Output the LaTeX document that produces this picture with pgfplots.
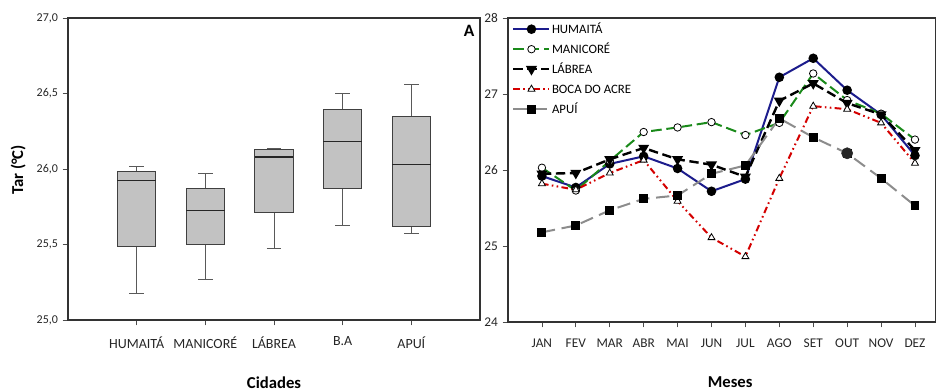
\documentclass[border=0pt]{standalone}
\usepackage{fontspec}
\setmainfont{Carlito}
\usepackage{pgfplots}
\pgfplotsset{compat=1.18}
\usepgfplotslibrary{statistics}
\definecolor{boxfill}{HTML}{C2C2C2}
\definecolor{cblue}{HTML}{1C1C8C}
\definecolor{cgreen}{HTML}{1A8A1A}
\definecolor{cred}{HTML}{D40000}
\definecolor{cgray}{HTML}{8C8C8C}
\begin{document}
\begin{tikzpicture}
\useasboundingbox (0,0) rectangle (702pt,294pt);
% ---------------- Left: boxplots
\begin{axis}[
  at={(51pt,54pt)}, anchor=south west, scale only axis,
  width=309pt, height=226.5pt,
  xmin=0, xmax=6, ymin=25, ymax=27,
  xtick={1,2,3,4,5},
  xticklabels={HUMAITÁ,MANICORÉ,LÁBREA,B.A,APUÍ},
  ytick={25,25.5,26,26.5,27},
  /pgf/number format/.cd, use comma, fixed, fixed zerofill, precision=1, assume math mode=true,
  /pgfplots/.cd,
  tick align=outside, tick pos=left, major tick length=4pt,
  tick style={black!70, line width=0.6pt},
  axis line style={black!80, line width=0.8pt},
  yticklabel style={font=\fontsize{9}{10}\selectfont, text=black!85},
  xticklabel style={yshift=-5pt, font=\fontsize{10.5}{11}\selectfont, text=black!85},
  xlabel={\textbf{Cidades}},
  xlabel style={at={(axis description cs:0.5,-0.209)}, anchor=center, font=\fontsize{12.5}{14}\selectfont},
  ylabel={\textbf{Tar (°C)}},
  ylabel style={at={(axis description cs:-0.121,0.497)}, anchor=center, rotate=0, font=\fontsize{12.5}{14}\selectfont},
  boxplot/draw direction=y,
  boxplot/every box/.style={draw=black!75, fill=boxfill, line width=0.8pt},
  boxplot/every median/.style={draw=black!85, line width=1pt},
  boxplot/every whisker/.style={draw=black!65, line width=0.7pt},
]
\addplot[boxplot prepared={draw position=1, lower whisker=25.176, lower quartile=25.487, median=25.925, upper quartile=25.985, upper whisker=26.02, box extend=0.56, whisker extend=0.21}] coordinates {};
\addplot[boxplot prepared={draw position=2, lower whisker=25.271, lower quartile=25.498, median=25.727, upper quartile=25.872, upper whisker=25.971, box extend=0.56, whisker extend=0.21}] coordinates {};
\addplot[boxplot prepared={draw position=3, lower whisker=25.476, lower quartile=25.714, median=26.079, upper quartile=26.132, upper whisker=26.137, box extend=0.56, whisker extend=0.21}] coordinates {};
\addplot[boxplot prepared={draw position=4, lower whisker=25.623, lower quartile=25.868, median=26.181, upper quartile=26.396, upper whisker=26.502, box extend=0.56, whisker extend=0.21}] coordinates {};
\addplot[boxplot prepared={draw position=5, lower whisker=25.575, lower quartile=25.621, median=26.031, upper quartile=26.348, upper whisker=26.559, box extend=0.56, whisker extend=0.21}] coordinates {};
\node[anchor=north east, font=\fontsize{13}{14}\selectfont\bfseries, inner sep=0pt] at ([xshift=-4pt,yshift=-5pt]rel axis cs:1,1) {A};
\end{axis}
% ---------------- Right: monthly lines
\begin{axis}[
  at={(381pt,52.5pt)}, anchor=south west, scale only axis,
  width=321pt, height=228pt,
  xmin=0, xmax=12.62, ymin=24, ymax=28,
  xtick={1,...,12},
  xticklabels={JAN,FEV,MAR,ABR,MAI,JUN,JUL,AGO,SET,OUT,NOV,DEZ},
  ytick={24,25,26,27,28},
  /pgf/number format/assume math mode=true,
  tick align=outside, tick pos=left, major tick length=4pt,
  tick style={black!70, line width=0.6pt},
  axis line style={black!80, line width=0.8pt},
  ticklabel style={font=\fontsize{10}{11}\selectfont, text=black!85},
  xticklabel style={yshift=-5pt},
  xlabel={\textbf{Meses}},
  xlabel style={at={(axis description cs:0.519,-0.198)}, anchor=center, font=\fontsize{12.5}{14}\selectfont},
  legend image code/.code={\draw[mark repeat=2,mark phase=2,#1] plot coordinates {(0pt,0pt) (13.5pt,0pt) (27pt,0pt)};},
  legend style={at={([xshift=3pt,yshift=-3.2pt]rel axis cs:0,1)}, anchor=north west, draw=none, fill=none,
    inner sep=0pt, row sep=5pt, font=\fontsize{9.6}{10}\selectfont,
    nodes={inner sep=1pt, text height=7pt, text depth=1pt}},
  legend cell align=left,
]
\addplot[cblue, line width=1.5pt, mark=*, mark size=2.8pt, mark options={fill=black, draw=black, solid}]
  coordinates {(1,25.92) (2,25.77) (3,26.08) (4,26.18) (5,26.02) (6,25.72) (7,25.88) (8,27.22) (9,27.47) (10,27.05) (11,26.73) (12,26.19)};
\addlegendentry{HUMAITÁ}
\addplot[cgreen, line width=1.5pt, dash pattern=on 8pt off 3.5pt, mark=*, mark size=2.8pt, mark options={fill=white, draw=black, solid, line width=0.6pt}]
  coordinates {(1,26.03) (2,25.73) (3,26.12) (4,26.50) (5,26.56) (6,26.63) (7,26.46) (8,26.62) (9,27.27) (10,26.92) (11,26.74) (12,26.40)};
\addlegendentry{MANICORÉ}
\addplot[black, line width=1.8pt, dash pattern=on 7pt off 3.5pt, mark=triangle*, mark size=3pt, mark options={fill=black, draw=black, solid, rotate=180}]
  coordinates {(1,25.95) (2,25.96) (3,26.14) (4,26.29) (5,26.14) (6,26.07) (7,25.91) (8,26.91) (9,27.14) (10,26.88) (11,26.73) (12,26.26)};
\addlegendentry{LÁBREA}
\addplot[cred, line width=1.5pt, dash pattern=on 5pt off 2.5pt on 1.2pt off 2.5pt on 1.2pt off 2.5pt, mark=triangle*, mark size=3pt, mark options={fill=white, draw=black, solid, line width=0.6pt}]
  coordinates {(1,25.82) (2,25.74) (3,25.96) (4,26.13) (5,25.59) (6,25.11) (7,24.86) (8,25.89) (9,26.84) (10,26.80) (11,26.62) (12,26.09)};
\addlegendentry{BOCA DO ACRE}
\addplot[cgray, line width=1.5pt, dash pattern=on 10pt off 5pt, mark=square*, mark size=2.6pt, mark options={fill=black, draw=black, solid}]
  coordinates {(1,25.18) (2,25.27) (3,25.47) (4,25.62) (5,25.665) (6,25.95) (7,26.06) (8,26.68) (9,26.43) (10,26.22) (11,25.89) (12,25.53)};
\addlegendentry{APUÍ}
\addplot[forget plot, only marks, mark=*, mark size=4.2pt, mark options={fill=black!85, draw=black!85}]
  coordinates {(10,26.22)};
\end{axis}
\end{tikzpicture}
\end{document}
